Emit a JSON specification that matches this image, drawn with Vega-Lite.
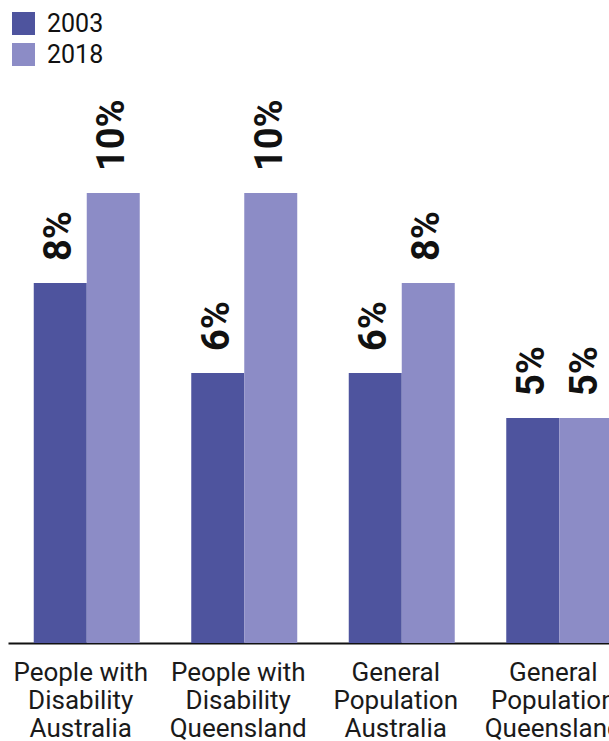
{
  "$schema": "https://vega.github.io/schema/vega-lite/v6.json",
  "width": 630,
  "height": 540,
  "autosize": {"type": "none"},
  "padding": {"left": 8, "top": 103, "right": 0, "bottom": 100},
  "background": "#ffffff",
  "config": {"view": {"stroke": null}, "font": "Roboto"},
  "data": {
    "values": [
      {"group": "People with Disability Australia", "year": "2003", "share": 0.08},
      {"group": "People with Disability Australia", "year": "2018", "share": 0.10},
      {"group": "People with Disability Queensland", "year": "2003", "share": 0.06},
      {"group": "People with Disability Queensland", "year": "2018", "share": 0.10},
      {"group": "General Population Australia", "year": "2003", "share": 0.06},
      {"group": "General Population Australia", "year": "2018", "share": 0.08},
      {"group": "General Population Queensland", "year": "2003", "share": 0.05},
      {"group": "General Population Queensland", "year": "2018", "share": 0.05}
    ]
  },
  "encoding": {
    "x": {
      "field": "group",
      "type": "nominal",
      "sort": null,
      "scale": {"paddingInner": 0.327, "paddingOuter": 0.1635},
      "axis": {
        "title": null,
        "labelAngle": 0,
        "ticks": false,
        "domainColor": "#111111",
        "domainWidth": 2,
        "labelFont": "Roboto",
        "labelFontSize": 26,
        "labelColor": "#1a1a1a",
        "labelLineHeight": 28,
        "labelPadding": 16,
        "labelOffset": -6,
        "labelBaseline": "top",
        "labelExpr": "length(split(datum.label, ' ')) == 4 ? [split(datum.label, ' ')[0] + ' ' + split(datum.label, ' ')[1], split(datum.label, ' ')[2], split(datum.label, ' ')[3]] : split(datum.label, ' ')"
      }
    },
    "xOffset": {
      "field": "year",
      "type": "nominal",
      "scale": {"paddingInner": 0, "paddingOuter": 0}
    },
    "y": {
      "field": "share",
      "type": "quantitative",
      "scale": {"domain": [0, 0.12]},
      "axis": null
    }
  },
  "layer": [
    {
      "mark": {"type": "bar"},
      "encoding": {
        "color": {
          "field": "year",
          "type": "nominal",
          "scale": {"domain": ["2003", "2018"], "range": ["#4e549e", "#8c8cc6"]},
          "legend": {
            "title": null,
            "orient": "none",
            "legendX": 3,
            "legendY": -92,
            "symbolType": "square",
            "symbolSize": 529,
            "symbolStrokeWidth": 0,
            "symbolOpacity": 1,
            "labelFont": "Roboto",
            "labelFontSize": 25,
            "labelColor": "#111111",
            "labelOffset": 11,
            "rowPadding": 5
          }
        }
      }
    },
    {
      "mark": {
        "type": "text",
        "angle": 270,
        "align": "left",
        "baseline": "middle",
        "dx": 22,
        "font": "Roboto",
        "fontWeight": "bold",
        "fontSize": 38,
        "color": "#111111"
      },
      "encoding": {
        "text": {"field": "share", "type": "quantitative", "format": ".0%"}
      }
    }
  ]
}
